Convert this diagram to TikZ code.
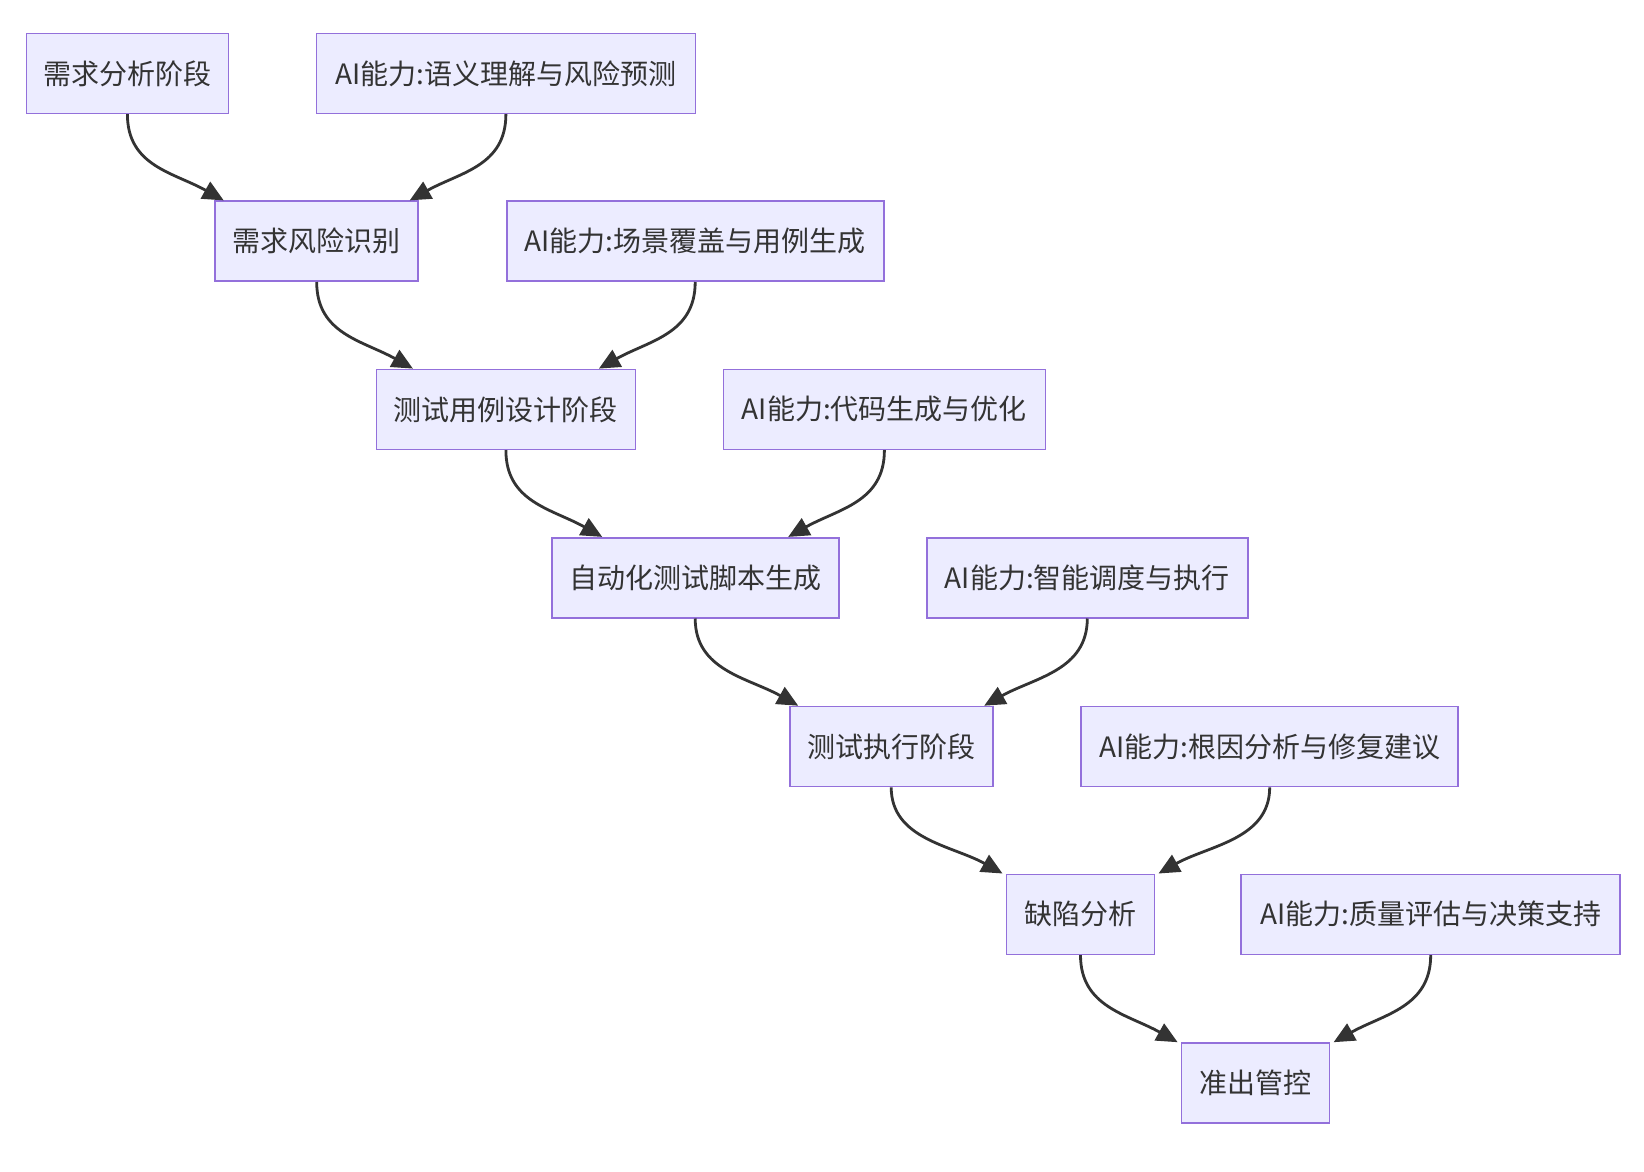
\documentclass[tikz,border=0pt]{standalone}
\usepackage{fontspec}
\setmainfont{Noto Sans CJK SC}
\usetikzlibrary{arrows.meta,calc}
\definecolor{boxfill}{HTML}{ECECFF}
\definecolor{boxline}{HTML}{9370DB}
\definecolor{ink}{HTML}{333333}
\begin{document}
\begin{tikzpicture}[x=1pt,y=-1pt,
 box/.style={draw=boxline, fill=boxfill, line width=1.6pt, minimum height=80pt, inner xsep=4pt, text=ink, font=\fontsize{28}{34}\selectfont},
 arr/.style={draw=ink, line width=2.8pt, -{Triangle[length=21pt,width=19pt]}}]
\useasboundingbox[fill=white] (0,0) rectangle (1644,1172);
\node[box, minimum width=202pt] (n1) at (127.4,73.4) {需求分析阶段};
\node[box, minimum width=379pt] (a1) at (505.9,73.4) {AI能力:语义理解与风险预测};
\node[box, minimum width=203pt] (n2) at (316.7,241.2) {需求风险识别};
\node[box, minimum width=377pt] (a2) at (695.2,241.2) {AI能力:场景覆盖与用例生成};
\node[box, minimum width=259pt] (n3) at (505.9,409.4) {测试用例设计阶段};
\node[box, minimum width=322pt] (a3) at (884.4,409.4) {AI能力:代码生成与优化};
\node[box, minimum width=287pt] (n4) at (695.2,577.7) {自动化测试脚本生成};
\node[box, minimum width=321pt] (a4) at (1087.3,577.7) {AI能力:智能调度与执行};
\node[box, minimum width=203pt] (n5) at (891.2,746.5) {测试执行阶段};
\node[box, minimum width=377pt] (a5) at (1269.7,746.5) {AI能力:根因分析与修复建议};
\node[box, minimum width=148pt] (n6) at (1080.5,914.3) {缺陷分析};
\node[box, minimum width=379pt] (a6) at (1430.7,914.3) {AI能力:质量评估与决策支持};
\node[box, minimum width=148pt] (n7) at (1255.6,1083) {准出管控};
% arrow tips on the top edges
\coordinate (t2l) at ($(n2.north)+(-93,0)$);
\coordinate (t2r) at ($(n2.north)+(93,0)$);
\coordinate (t3l) at ($(n3.north)+(-93,0)$);
\coordinate (t3r) at ($(n3.north)+(93,0)$);
\coordinate (t4l) at ($(n4.north)+(-93,0)$);
\coordinate (t4r) at ($(n4.north)+(93,0)$);
\coordinate (t5l) at ($(n5.north)+(-93,0)$);
\coordinate (t5r) at ($(n5.north)+(93,0)$);
\coordinate (t6l) at ($(n6.north)+(-78,0)$);
\coordinate (t6r) at ($(n6.north)+(78,0)$);
\coordinate (t7l) at ($(n7.north)+(-78,0)$);
\coordinate (t7r) at ($(n7.north)+(78,0)$);
\draw[arr] (n1.south) .. controls +(0,52) and +(-50,-28) .. (t2l);
\draw[arr] (a1.south) .. controls +(0,52) and +(50,-28) .. (t2r);
\draw[arr] (n2.south) .. controls +(0,52) and +(-50,-28) .. (t3l);
\draw[arr] (a2.south) .. controls +(0,52) and +(50,-28) .. (t3r);
\draw[arr] (n3.south) .. controls +(0,52) and +(-50,-28) .. (t4l);
\draw[arr] (a3.south) .. controls +(0,52) and +(50,-28) .. (t4r);
\draw[arr] (n4.south) .. controls +(0,52) and +(-50,-28) .. (t5l);
\draw[arr] (a4.south) .. controls +(0,52) and +(50,-28) .. (t5r);
\draw[arr] (n5.south) .. controls +(0,52) and +(-50,-28) .. (t6l);
\draw[arr] (a5.south) .. controls +(0,52) and +(50,-28) .. (t6r);
\draw[arr] (n6.south) .. controls +(0,52) and +(-50,-28) .. (t7l);
\draw[arr] (a6.south) .. controls +(0,52) and +(50,-28) .. (t7r);
\end{tikzpicture}
\end{document}
